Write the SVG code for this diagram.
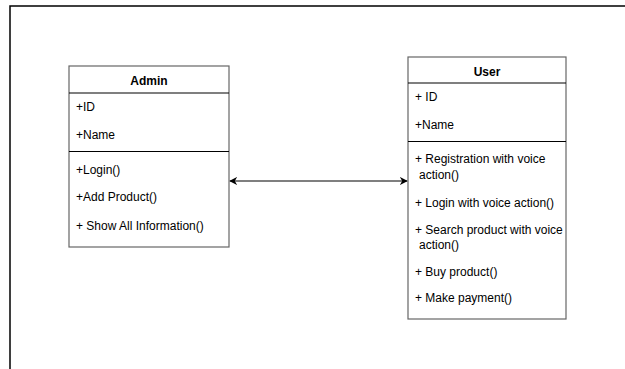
<svg xmlns="http://www.w3.org/2000/svg" width="625" height="369" viewBox="0 0 625 369">
<style>
  .box{fill:#fff;stroke:#666;stroke-width:1.2}
  .div{stroke:#000;stroke-width:1.2}
  .t{font-family:"Liberation Sans",Arial,sans-serif;font-size:12px;fill:#000}
  .h{font-family:"Liberation Sans",Arial,sans-serif;font-size:12px;font-weight:bold;fill:#000;text-anchor:middle}
  .edge{stroke:#000;stroke-width:1.2;fill:none}
</style>
<defs>
  <marker id="arr" viewBox="0 0 10 10" refX="9" refY="5" markerWidth="8" markerHeight="8" markerUnits="userSpaceOnUse" orient="auto-start-reverse">
    <path d="M0,0 L10,5 L0,10 L3,5 Z" fill="#000"/>
  </marker>
</defs>
<rect width="625" height="369" fill="#fff"/>
<path d="M10,369 L10,6 L625,6" fill="none" stroke="#000" stroke-width="1.5"/>
<g id="admin">
  <rect class="box" x="69" y="66" width="160" height="181"/>
  <line class="div" x1="69" y1="93" x2="229" y2="93"/>
  <line class="div" x1="69" y1="151.5" x2="229" y2="151.5"/>
  <text class="h" x="149" y="85">Admin</text>
  <text class="t" x="76" y="111">+ID</text>
  <text class="t" x="76" y="139">+Name</text>
  <text class="t" x="76" y="174">+Login()</text>
  <text class="t" x="76" y="201">+Add Product()</text>
  <text class="t" x="76" y="230">+ Show All Information()</text>
</g>
<g id="user">
  <rect class="box" x="408" y="57" width="158" height="262"/>
  <line class="div" x1="408" y1="83" x2="566" y2="83"/>
  <line class="div" x1="408" y1="141.5" x2="566" y2="141.5"/>
  <text class="h" x="487" y="76">User</text>
  <text class="t" x="415" y="101">+ ID</text>
  <text class="t" x="415" y="129">+Name</text>
  <text class="t" x="415" y="163">+ Registration with voice</text>
  <text class="t" x="419" y="179">action()</text>
  <text class="t" x="415" y="207">+ Login with voice action()</text>
  <text class="t" x="415" y="234">+ Search product with voice</text>
  <text class="t" x="419" y="249">action()</text>
  <text class="t" x="415" y="276">+ Buy product()</text>
  <text class="t" x="415" y="302">+ Make payment()</text>
</g>
<g id="connectors">
  <line class="edge" x1="230" y1="181" x2="407" y2="181" marker-start="url(#arr)" marker-end="url(#arr)"/>
</g>
</svg>
